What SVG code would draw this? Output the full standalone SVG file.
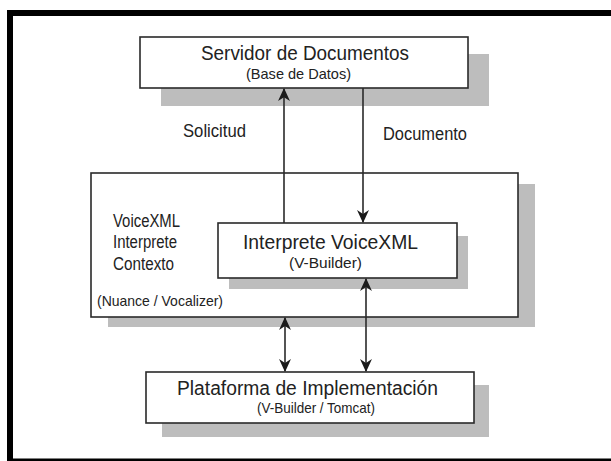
<svg xmlns="http://www.w3.org/2000/svg" width="611" height="461" viewBox="0 0 611 461">
<style>
.box{fill:#fff;stroke:#2a2a2a;stroke-width:1.6}
.sh{fill:#bdbdbd}
.t{font-family:"Liberation Sans Narrow","Liberation Sans",Arial,sans-serif;fill:#222}
.big{font-size:20px}
.mid{font-size:18px}
.sm{font-size:14.5px}
.ln{stroke:#2a2a2a;stroke-width:1.6;fill:none}
</style>
<defs>
<marker id="ah" viewBox="0 0 12 12" refX="11" refY="6" markerWidth="13" markerHeight="13" markerUnits="userSpaceOnUse" orient="auto-start-reverse">
<path d="M0,0.5 L12,6 L0,11.5 L3.5,6 z" fill="#1a1a1a"/>
</marker>
</defs>
<rect width="611" height="461" fill="#fff"/>
<g id="frame">
<rect x="7" y="10" width="604" height="6" fill="#000"/>
<rect x="7" y="10" width="6" height="451" fill="#000"/>
<rect x="7" y="458.5" width="604" height="2.5" fill="#000"/>
</g>
<g id="contexto">
<rect class="sh" x="108" y="184" width="427" height="143"/>
<rect class="box" x="91" y="173" width="427" height="144"/>
<text class="t mid" x="113" y="227" textLength="67" lengthAdjust="spacingAndGlyphs">VoiceXML</text>
<text class="t mid" x="113" y="248" textLength="64" lengthAdjust="spacingAndGlyphs">Interprete</text>
<text class="t mid" x="113" y="270" textLength="61" lengthAdjust="spacingAndGlyphs">Contexto</text>
<text class="t sm" x="97" y="306" textLength="126" lengthAdjust="spacingAndGlyphs">(Nuance / Vocalizer)</text>
</g>
<g id="servidor">
<rect class="sh" x="161" y="54" width="328" height="52"/>
<rect class="box" x="140" y="37" width="328" height="51"/>
<text class="t big" x="201" y="60" textLength="208" lengthAdjust="spacingAndGlyphs">Servidor de Documentos</text>
<text class="t sm" x="246" y="79" textLength="105" lengthAdjust="spacingAndGlyphs">(Base de Datos)</text>
</g>
<g id="interprete">
<rect class="sh" x="229" y="236" width="239" height="53"/>
<rect class="box" x="218" y="223" width="239" height="55"/>
<text class="t big" x="243" y="249" textLength="175" lengthAdjust="spacingAndGlyphs">Interprete VoiceXML</text>
<text class="t sm" x="289" y="268" textLength="73" lengthAdjust="spacingAndGlyphs">(V-Builder)</text>
</g>
<g id="plataforma">
<rect class="sh" x="162" y="385" width="327" height="52"/>
<rect class="box" x="146" y="372" width="328" height="51"/>
<text class="t big" x="177" y="395" textLength="261" lengthAdjust="spacingAndGlyphs">Plataforma de Implementación</text>
<text class="t sm" x="257" y="413" textLength="118" lengthAdjust="spacingAndGlyphs">(V-Builder / Tomcat)</text>
</g>
<g id="connectors">
<line class="ln" x1="284" y1="223" x2="284" y2="89" marker-end="url(#ah)"/>
<line class="ln" x1="363" y1="88" x2="363" y2="222" marker-end="url(#ah)"/>
<line class="ln" x1="366" y1="279" x2="366" y2="371" marker-start="url(#ah)" marker-end="url(#ah)"/>
<line class="ln" x1="285" y1="318" x2="285" y2="371" marker-start="url(#ah)" marker-end="url(#ah)"/>
<text class="t mid" x="183" y="137" textLength="63" lengthAdjust="spacingAndGlyphs">Solicitud</text>
<text class="t mid" x="383" y="140" textLength="84" lengthAdjust="spacingAndGlyphs">Documento</text>
</g>
</svg>
